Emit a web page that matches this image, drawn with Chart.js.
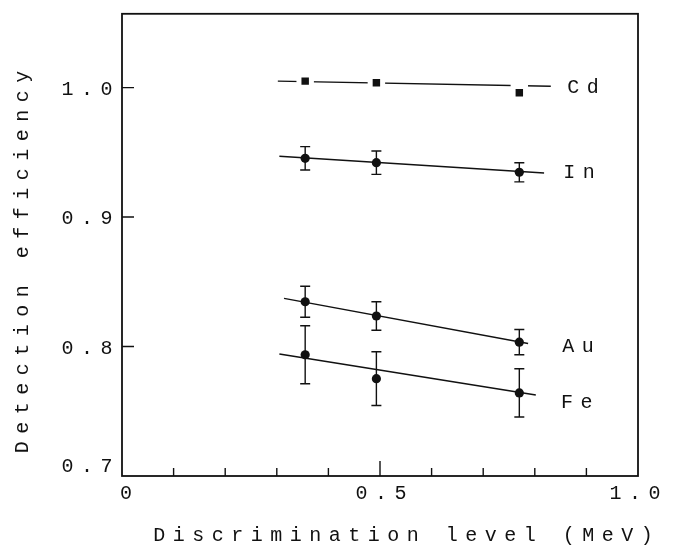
<!DOCTYPE html>
<html>
<head>
<meta charset="utf-8">
<script src="https://cdn.jsdelivr.net/npm/chart.js@4/dist/chart.umd.min.js"></script>
<style>
  html, body { margin: 0; padding: 0; background: #fff; }
  #wrap { width: 675px; height: 556px; position: relative; }
</style>
</head>
<body>
<div id="wrap"><canvas id="c" width="675" height="556"></canvas></div>
<script>
// ---- data ----
const xLevels = [0.355, 0.493, 0.770];            // discrimination level (MeV)
const cdValues = [1.005, 1.0037, 0.996];
const cdErrors = [0, 0, 0];
const inValues = [0.9454, 0.942, 0.9346];
const inErrors = [0.009, 0.009, 0.0074];
const auValues = [0.8346, 0.8236, 0.8034];
const auErrors = [0.012, 0.011, 0.0097];
const feValues = [0.7936, 0.7752, 0.7642];
const feErrors = [0.0224, 0.0208, 0.0186];

// fitted straight lines (end points)
const cdFitX = [0.302, 0.831], cdFitY = [1.005, 1.0010];
const inFitX = [0.305, 0.818], inFitY = [0.947, 0.934];
const auFitX = [0.314, 0.787], auFitY = [0.8372, 0.8023];
const feFitX = [0.305, 0.802], feFitY = [0.7942, 0.7626];

// series names and where their labels sit (data coordinates)
const seriesNames = ['Cd', 'In', 'Au', 'Fe'];
const labelX = [0.863, 0.855, 0.853, 0.851];
const labelY = [1.0, 0.934, 0.800, 0.757];

// axes
const xTickValues = [0, 0.5, 1.0];
const xTickLabels = ['0', '0.5', '1.0'];
const xMinorTicks = [0.1, 0.2, 0.3, 0.4, 0.6, 0.7, 0.8, 0.9];
const yTickValues = [0.7, 0.8, 0.9, 1.0];
const yTickLabels = ['0.7', '0.8', '0.9', '1.0'];
const xTitle = 'Discrimination level (MeV)';
const yTitle = 'Detection efficiency';

// ---- build datasets ----
const toPts = (xs, ys) => xs.map((x, i) => ({ x: x, y: ys[i] }));
const ink = '#111';
const pointSets = [
  { vals: cdValues, errs: cdErrors, style: 'rect' },
  { vals: inValues, errs: inErrors, style: 'circle' },
  { vals: auValues, errs: auErrors, style: 'circle' },
  { vals: feValues, errs: feErrors, style: 'circle' }
];
const fits = [[cdFitX, cdFitY], [inFitX, inFitY], [auFitX, auFitY], [feFitX, feFitY]];

const datasets = [];
fits.forEach((f, i) => {
  datasets.push({
    label: seriesNames[i] + ' fit', data: toPts(f[0], f[1]), showLine: true,
    borderColor: ink, borderWidth: 1.4, pointRadius: 0, fill: false, order: 2
  });
});
pointSets.forEach((s, i) => {
  const isRect = s.style === 'rect';
  datasets.push({
    label: seriesNames[i], data: toPts(xLevels, s.vals), showLine: false,
    pointStyle: s.style,
    pointRadius: isRect ? 8.8 : 4.6,
    pointBackgroundColor: ink,
    pointBorderColor: isRect ? '#fff' : ink,
    pointBorderWidth: isRect ? 5 : 0,
    errors: s.errs, order: 1
  });
});

const FONT = '20px "Liberation Mono", "DejaVu Sans Mono", monospace';
const LS = 7.5;

function spacedText(ctx, str, cx, cy, align) {
  ctx.letterSpacing = '0px';
  const w0 = ctx.measureText(str).width;
  const w = w0 + LS * (str.length - 1);
  ctx.letterSpacing = LS + 'px';
  ctx.textAlign = 'left';
  ctx.textBaseline = 'middle';
  let left = cx - w / 2;
  if (align === 'left') left = cx;
  if (align === 'right') left = cx - w;
  ctx.fillText(str, left, cy);
  ctx.letterSpacing = '0px';
}

const overlay = {
  id: 'overlay',
  beforeDraw(chart) {
    const ctx = chart.ctx;
    ctx.save();
    ctx.fillStyle = '#fff';
    ctx.fillRect(0, 0, chart.width, chart.height);
    ctx.restore();
  },
  afterDatasetsDraw(chart) {
    const ctx = chart.ctx, xs = chart.scales.x, ys = chart.scales.y;
    ctx.save();
    ctx.strokeStyle = ink;
    ctx.lineWidth = 1.4;
    chart.data.datasets.forEach(ds => {
      if (!ds.errors) return;
      ds.data.forEach((p, i) => {
        const e = ds.errors[i];
        if (!e) return;
        const px = xs.getPixelForValue(p.x);
        const top = ys.getPixelForValue(p.y + e);
        const bot = ys.getPixelForValue(p.y - e);
        ctx.beginPath();
        ctx.moveTo(px, top); ctx.lineTo(px, bot);
        ctx.moveTo(px - 5, top); ctx.lineTo(px + 5, top);
        ctx.moveTo(px - 5, bot); ctx.lineTo(px + 5, bot);
        ctx.stroke();
      });
    });
    ctx.restore();
  },
  afterDraw(chart) {
    const ctx = chart.ctx, xs = chart.scales.x, ys = chart.scales.y, a = chart.chartArea;
    ctx.save();
    // frame
    ctx.strokeStyle = ink;
    ctx.lineWidth = 1.8;
    ctx.strokeRect(a.left, a.top, a.right - a.left, a.bottom - a.top);
    // inward ticks
    ctx.lineWidth = 1.4;
    ctx.beginPath();
    yTickValues.forEach(v => {
      const py = ys.getPixelForValue(v);
      if (Math.abs(py - a.bottom) < 2) return;
      ctx.moveTo(a.left, py); ctx.lineTo(a.left + 12, py);
    });
    xMinorTicks.forEach(v => {
      const px = xs.getPixelForValue(v);
      ctx.moveTo(px, a.bottom); ctx.lineTo(px, a.bottom - 8);
    });
    xTickValues.forEach(v => {
      const px = xs.getPixelForValue(v);
      if (Math.abs(px - a.left) < 2 || Math.abs(px - a.right) < 2) return;
      ctx.moveTo(px, a.bottom); ctx.lineTo(px, a.bottom - 15);
    });
    ctx.stroke();

    ctx.fillStyle = ink;
    ctx.font = FONT;
    // y tick labels
    yTickValues.forEach((v, i) => {
      let py = ys.getPixelForValue(v) + 2;
      if (py > a.bottom - 10) py = a.bottom - 9;
      spacedText(ctx, yTickLabels[i], a.left - 35, py);
    });
    // x tick labels
    xTickValues.forEach((v, i) => {
      let px = xs.getPixelForValue(v);
      if (i === 0) px += 3;
      if (i === xTickValues.length - 1) px -= 4;
      spacedText(ctx, xTickLabels[i], px + 1, a.bottom + 18);
    });
    // series labels
    seriesNames.forEach((n, i) => {
      spacedText(ctx, n, xs.getPixelForValue(labelX[i]), ys.getPixelForValue(labelY[i]), 'left');
    });
    // axis titles
    spacedText(ctx, xTitle, (153 + 653) / 2, a.bottom + 60);
    ctx.translate(23, 262);
    ctx.rotate(-Math.PI / 2);
    spacedText(ctx, yTitle, 0, 0);
    ctx.restore();
  }
};

new Chart(document.getElementById('c'), {
  type: 'scatter',
  data: { datasets: datasets },
  options: {
    responsive: false,
    animation: false,
    layout: { padding: { left: 122, right: 37, top: 12, bottom: 80 } },
    plugins: { legend: { display: false }, tooltip: { enabled: false } },
    scales: {
      x: { type: 'linear', min: 0, max: 1.0, display: false },
      y: { type: 'linear', min: 0.7, max: 1.057, display: false }
    }
  },
  plugins: [overlay]
});
</script>
</body>
</html>
